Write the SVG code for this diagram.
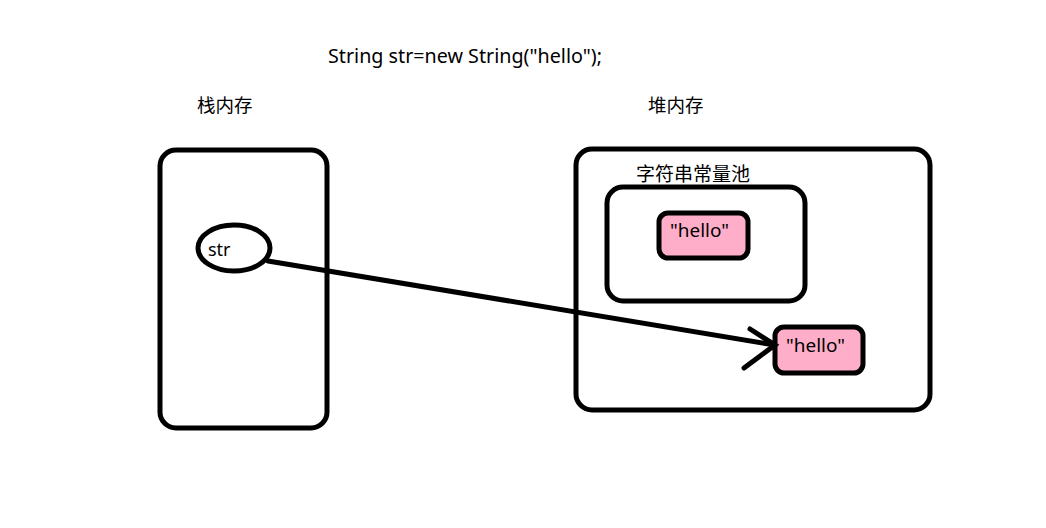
<svg xmlns="http://www.w3.org/2000/svg" width="1046" height="528" viewBox="0 0 1046 528">
<style>
.box{fill:none;stroke:#000;stroke-width:5}
.val{fill:#FFAEC9;stroke:#000;stroke-width:5}
.t{font-family:"Noto Sans","Noto Sans CJK SC",sans-serif;fill:#000}
.cjk{font-family:"Noto Sans CJK SC",sans-serif;fill:#000;font-size:18.5px}
.line{fill:none;stroke:#000;stroke-width:5;stroke-linecap:round}
</style>
<rect width="1046" height="528" fill="#fff"/>
<text class="t" x="328" y="63" font-size="19.5" textLength="274" lengthAdjust="spacingAndGlyphs">String str=new String("hello");</text>
<g id="stack">
<text class="cjk" x="197" y="112">栈内存</text>
<rect class="box" x="160" y="150" width="167" height="278" rx="16"/>
</g>
<g id="heap">
<text class="cjk" x="648" y="112">堆内存</text>
<rect class="box" x="576" y="149" width="354" height="261" rx="16"/>
</g>
<g id="pool">
<text class="cjk" x="636" y="181" style="font-size:19px">字符串常量池</text>
<rect class="box" x="607" y="187" width="198" height="114" rx="16"/>
</g>
<g id="str">
<ellipse class="box" cx="234" cy="248" rx="36" ry="23" fill="#fff"/>
<text class="t" x="208" y="256" font-size="18">str</text>
</g>
<g id="hello-pool">
<rect class="val" x="659" y="213" width="89" height="45" rx="9"/>
<text class="t" x="670" y="237" font-size="18" textLength="59" lengthAdjust="spacingAndGlyphs">"hello"</text>
</g>
<g id="hello-heap">
<rect class="val" x="775" y="327" width="88" height="46" rx="9"/>
<text class="t" x="786" y="352" font-size="18" textLength="59" lengthAdjust="spacingAndGlyphs">"hello"</text>
</g>
<g id="connectors">
<line class="line" x1="268" y1="261" x2="775" y2="345"/>
<polyline class="line" points="750,329 775,345 744,368"/>
</g>
</svg>
